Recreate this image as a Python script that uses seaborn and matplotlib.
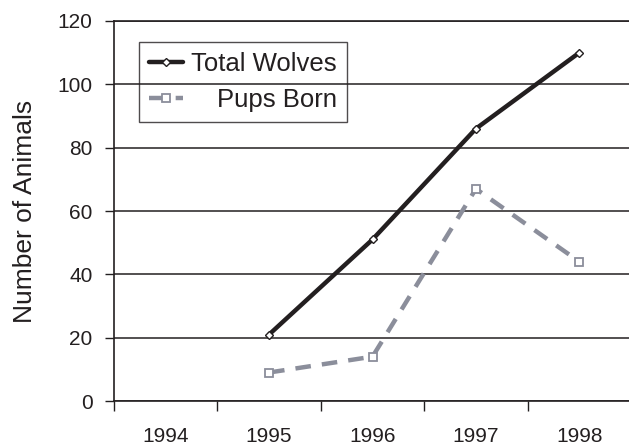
import matplotlib
matplotlib.use("Agg")
import matplotlib.pyplot as plt
import seaborn as sns
import pandas as pd

# ---- data ----
categories = ["1994", "1995", "1996", "1997", "1998"]
category_years = [1994, 1995, 1996, 1997, 1998]
data_years = [1995, 1996, 1997, 1998]
total_wolves = [21, 51, 86, 110]
pups_born = [9, 14, 67, 44]
y_ticks = [0, 20, 40, 60, 80, 100, 120]

sns.set_theme(style="white")
plt.rcParams["font.family"] = ["Liberation Sans", "DejaVu Sans"]

DARK = "#231f20"
GREY = "#8b8e9b"

fig = plt.figure(figsize=(6.29, 4.48), dpi=100)
ax = fig.add_axes([114 / 629, 47 / 448, 517 / 629, 380 / 448])

df_total = pd.DataFrame({"year": data_years, "value": total_wolves})
df_pups = pd.DataFrame({"year": data_years, "value": pups_born})

sns.lineplot(data=df_total, x="year", y="value", ax=ax, color=DARK, lw=3.2,
             marker="D", ms=4, mfc="white", mec=DARK, mew=1.0,
             label="Total Wolves", zorder=4)
sns.lineplot(data=df_pups, x="year", y="value", ax=ax, color=GREY, lw=3.2,
             marker="s", ms=5.5, mfc="white", mec=GREY, mew=1.3,
             label="Pups Born", zorder=3)
ax.lines[1].set_linestyle((0, (3.5, 2.5)))

ax.set_xlim(category_years[0] - 0.5, category_years[-1] + 0.5)
ax.set_ylim(0, 120)
ax.set_yticks(y_ticks)
ax.set_xticks(category_years)
ax.set_xticklabels(categories)
ax.set_xticks([y - 0.5 for y in category_years] + [category_years[-1] + 0.5], minor=True)

ax.yaxis.grid(True, color=DARK, lw=1.1)
ax.xaxis.grid(False)
ax.set_axisbelow(True)

for side in ["left", "bottom", "top"]:
    ax.spines[side].set_color(DARK)
    ax.spines[side].set_linewidth(1.2)
ax.spines["right"].set_visible(False)

ax.tick_params(axis="y", which="major", direction="out", length=6.5, width=1,
               color=DARK, labelcolor=DARK, labelsize=15, pad=9, left=True)
ax.tick_params(axis="x", which="major", length=0, labelcolor=DARK,
               labelsize=15, pad=19)
ax.tick_params(axis="x", which="minor", direction="out", length=7, width=1,
               color=DARK, bottom=True)

ax.set_xlabel("")
ax.set_ylabel("Number of Animals", fontsize=19, color=DARK)
ax.yaxis.set_label_coords((37 - 114) / 517, 0.5)

leg = ax.legend(loc="upper left", bbox_to_anchor=(25 / 517, (401 - 42) / 380),
                borderaxespad=0, frameon=True, fancybox=False,
                edgecolor=DARK, facecolor="none", fontsize=18.5,
                handlelength=1.3, handletextpad=0.33, borderpad=0.4,
                labelspacing=0.46)
leg.get_frame().set_linewidth(1.0)
for t in leg.get_texts():
    t.set_color(DARK)

# right-align legend labels (as in the reference)
fig.canvas.draw()
renderer = fig.canvas.get_renderer()
texts = leg.get_texts()
widths = [t.get_window_extent(renderer).width for t in texts]
wmax = max(widths)
for t, w in zip(texts, widths):
    t.set_x(wmax - w)

fig.savefig("out.png", dpi=100)
